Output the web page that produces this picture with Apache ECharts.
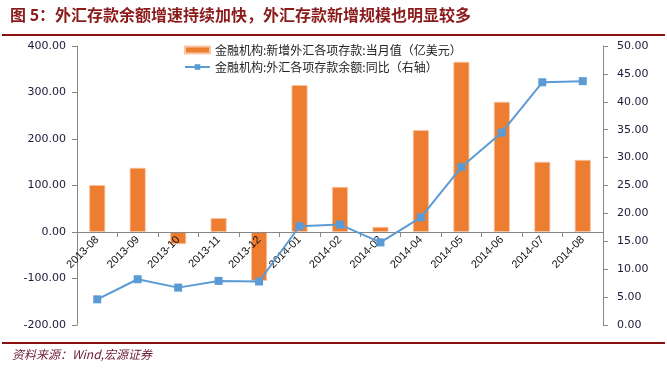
<!DOCTYPE html>
<html><head><meta charset="utf-8">
<script src="https://cdn.jsdelivr.net/npm/echarts@6/dist/echarts.min.js"></script>
<style>html,body{margin:0;padding:0;background:#fff}#c{width:667px;height:369px}</style>
</head><body><div id="c"></div>
<script>
var categories = ['2013-08','2013-09','2013-10','2013-11','2013-12','2014-01','2014-02','2014-03','2014-04','2014-05','2014-06','2014-07','2014-08'];
var barValues = [101, 138, -26, 30, -105, 316, 97, 11, 219, 366, 280, 151, 155];
var lineValues = [4.6, 8.2, 6.7, 7.9, 7.8, 17.7, 18.0, 14.8, 19.3, 28.3, 34.5, 43.5, 43.7];
var barName = '金融机构:新增外汇各项存款:当月值（亿美元）';
var lineName = '金融机构:外汇各项存款余额:同比（右轴）';
var titleText = '图 5：外汇存款余额增速持续加快，外汇存款新增规模也明显较多';
var sourceText = '资料来源：Wind,宏源证券';

var chart = echarts.init(document.getElementById('c'));
var axisColor = '#868686';
var labelColor = '#1a1a3a';
var leftMin = -200, leftMax = 400;
var gridTop = 46, gridBottom = 44, chartH = 369;
var plotH = chartH - gridTop - gridBottom;
// shift x axis up to the zero line of the left axis
var zeroOffset = -plotH * (0 - leftMin) / (leftMax - leftMin);
chart.setOption({
  animation: false,
  graphic: [
    {type:'text', left: 10, top: 7, style:{text:titleText, fill:'#8b1a1a', font:'bold 16px "Noto Sans CJK SC"'}},
    {type:'rect', shape:{x:2, y:34, width:663, height:2}, style:{fill:'#8b1010'}},
    {type:'rect', shape:{x:2, y:342, width:663, height:2}, style:{fill:'#8b1010'}},
    {type:'text', left: 12, top: 348, style:{text:sourceText, fill:'#6e1a3a', font:'italic 12px "Noto Sans CJK SC"'}}
  ],
  legend: {
    orient: 'vertical', left: 179, top: 39, itemWidth: 25, itemHeight: 7, itemGap: 5,
    textStyle: {fontSize: 12, color: '#222', fontFamily: '"Noto Sans CJK SC"'},
    data: [{name: barName, icon:'rect'}, {name: lineName}]
  },
  grid: {left: 77, right: 64, top: gridTop, bottom: gridBottom},
  xAxis: {
    type: 'category', data: categories, offset: zeroOffset, z: 3,
    axisLine: {onZero: false, lineStyle: {color: axisColor}},
    axisTick: {show: true, length: 5, lineStyle:{color: axisColor}},
    axisLabel: {rotate: 45, fontSize: 11, color: '#111', margin: 6, interval: 0, fontFamily:'"Liberation Sans", Arial'}
  },
  yAxis: [
    {type: 'value', min: leftMin, max: leftMax, interval: 100,
     axisLine: {show: true, lineStyle: {color: axisColor}},
     axisTick: {show: true, length: 5, lineStyle:{color: axisColor}},
     splitLine: {show: false},
     axisLabel: {fontSize: 11, color: labelColor, margin: 11, formatter: function(v){return v.toFixed(2);}, fontFamily:'"DejaVu Sans"'}},
    {type: 'value', min: 0, max: 50, interval: 5, position: 'right',
     axisLine: {show: true, lineStyle: {color: axisColor}},
     axisTick: {show: true, length: 5, lineStyle:{color: axisColor}},
     splitLine: {show: false},
     axisLabel: {fontSize: 11, color: labelColor, margin: 14, formatter: function(v){return v.toFixed(2);}, fontFamily:'"DejaVu Sans"'}}
  ],
  series: [
    {name: barName, type: 'bar', data: barValues, yAxisIndex: 0, barWidth: 16, z: 2,
     itemStyle: {color: '#ED7D31', borderColor: '#F7C6A6', borderWidth: 0.8}},
    {name: lineName, type: 'line', data: lineValues, yAxisIndex: 1, z: 4,
     symbol: 'rect', symbolSize: 8, lineStyle: {color: '#5B9BD5', width: 2},
     itemStyle: {color: '#5B9BD5'}}
  ]
});
</script></body></html>
